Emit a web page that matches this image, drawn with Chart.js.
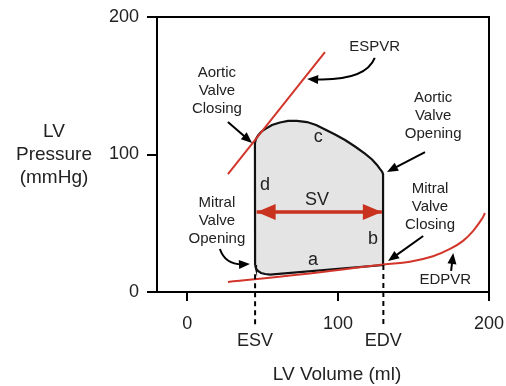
<!DOCTYPE html>
<html>
<head>
<meta charset="utf-8">
<script src="https://cdn.jsdelivr.net/npm/chart.js@4"></script>
<style>
  html, body { margin: 0; padding: 0; background: #fff; }
  #wrap { width: 506px; height: 386px; position: relative; }
</style>
</head>
<body>
<div id="wrap"><canvas id="pv"></canvas></div>
<script>
// PV loop data (volume in ml, pressure in mmHg)
const loopVolume   = [45, 45.6, 46.9, 48.9, 51.6, 54.9, 129.8, 129.8, 129.1, 127.7, 125.8, 122.5, 117.8, 111.2, 104.6, 98, 91.4, 85.4, 79.4, 72.8, 66.8, 61.5, 56.2, 51.6, 48.9, 46.9, 45.6, 44.9, 45];
const loopPressure = [19.6, 17.1, 15.3, 13.8, 13.1, 12.7, 19.6, 85.8, 87.6, 89.5, 92.4, 96.4, 100.7, 105.8, 110.5, 114.5, 118.2, 121.5, 123.6, 124.4, 124.4, 123.3, 121.5, 118.5, 116.4, 113.8, 111.3, 108.4, 19.6];

const espvrVolume   = [27, 91.3];
const espvrPressure = [85.8, 174.5];

const edpvrVolume   = [27, 74.7, 129.8, 147.6, 162.9, 174.2, 182.8, 189.4, 195.4, 197.3];
const edpvrPressure = [7.3, 12.7, 20, 22, 26, 31.3, 37.2, 44.3, 53.3, 57.5];

const esv = 45;
const edv = 130;
const svPressure = 58.2;
const dashBottom = -26;

const xTicks = [0, 100, 200];
const yTicks = [0, 100, 200];

// text labels, positioned in data units
const labels = [
  { x: 124.3, y: 178.2, lines: ['ESPVR'], size: 15 },
  { x: 19.7, y: 146.2, lines: ['Aortic', 'Valve', 'Closing'], size: 15 },
  { x: 163, y: 128, lines: ['Aortic', 'Valve', 'Opening'], size: 15 },
  { x: 19.7, y: 51.6, lines: ['Mitral', 'Valve', 'Opening'], size: 15 },
  { x: 160.9, y: 61.8, lines: ['Mitral', 'Valve', 'Closing'], size: 15 },
  { x: 171, y: 8.7, lines: ['EDPVR'], size: 15 },
  { x: 86.8, y: 112.7, lines: ['c'], size: 18 },
  { x: 51.6, y: 77.8, lines: ['d'], size: 18 },
  { x: 86.1, y: 66.9, lines: ['SV'], size: 18 },
  { x: 123.1, y: 38.5, lines: ['b'], size: 18 },
  { x: 83.4, y: 23.3, lines: ['a'], size: 18 }
];

// black pointer arrows: tail -> head, optional curve control
const pointers = [
  { from: [124.3, 170.2], ctrl: [118, 153], to: [79.5, 154.9] },
  { from: [27, 123.6], to: [43, 108.4] },
  { from: [157.6, 101.8], to: [132.4, 87.3] },
  { from: [21.7, 31.3], ctrl: [25.2, 19.6], to: [41.6, 20.4] },
  { from: [156.4, 40.7], to: [133.1, 22.5] },
  { from: [174.9, 15.3], to: [176.3, 28.4] }
];

const FONT = '"Liberation Sans", Arial, Helvetica, sans-serif';
const RED = '#d2352a';

function pts(xs, ys) {
  return xs.map((v, i) => ({ x: v, y: ys[i] }));
}

function arrowHead(ctx, x, y, angle, len, half) {
  ctx.save();
  ctx.translate(x, y);
  ctx.rotate(angle);
  ctx.beginPath();
  ctx.moveTo(0, 0);
  ctx.lineTo(-len, -half);
  ctx.lineTo(-len, half);
  ctx.closePath();
  ctx.fill();
  ctx.restore();
}

const decorations = {
  id: 'decorations',
  afterDatasetsDraw(chart) {
    const ctx = chart.ctx;
    const xs = chart.scales.x, ys = chart.scales.y;
    const a = chart.chartArea;

    // frame round the plot
    ctx.save();
    ctx.strokeStyle = '#000';
    ctx.lineWidth = 2;
    ctx.strokeRect(a.left, a.top, a.right - a.left, a.bottom - a.top);

    // arrowheads on SV line
    chart.data.datasets.forEach((ds, i) => {
      if (!ds.arrowEnds) return;
      const p = chart.getDatasetMeta(i).data;
      const first = p[0], last = p[p.length - 1];
      ctx.fillStyle = ds.borderColor;
      arrowHead(ctx, first.x, first.y, Math.atan2(first.y - p[1].y, first.x - p[1].x), 19, 8);
      arrowHead(ctx, last.x, last.y, Math.atan2(last.y - p[p.length - 2].y, last.x - p[p.length - 2].x), 19, 8);
    });

    // text labels
    ctx.fillStyle = '#222';
    ctx.textAlign = 'center';
    ctx.textBaseline = 'middle';
    labels.forEach(l => {
      ctx.font = l.size + 'px ' + FONT;
      const lh = 18;
      const cx = xs.getPixelForValue(l.x);
      const cy = ys.getPixelForValue(l.y);
      l.lines.forEach((t, k) => {
        ctx.fillText(t, cx, cy + (k - (l.lines.length - 1) / 2) * lh);
      });
    });

    // pointer arrows
    ctx.strokeStyle = '#000';
    ctx.fillStyle = '#000';
    ctx.lineWidth = 2;
    pointers.forEach(p => {
      const fx = xs.getPixelForValue(p.from[0]), fy = ys.getPixelForValue(p.from[1]);
      const tx = xs.getPixelForValue(p.to[0]), ty = ys.getPixelForValue(p.to[1]);
      let ang, ex, ey;
      ctx.beginPath();
      ctx.moveTo(fx, fy);
      if (p.ctrl) {
        const qx = xs.getPixelForValue(p.ctrl[0]), qy = ys.getPixelForValue(p.ctrl[1]);
        ang = Math.atan2(ty - qy, tx - qx);
        ex = tx - Math.cos(ang) * 6; ey = ty - Math.sin(ang) * 6;
        ctx.quadraticCurveTo(qx, qy, ex, ey);
      } else {
        ang = Math.atan2(ty - fy, tx - fx);
        ex = tx - Math.cos(ang) * 6; ey = ty - Math.sin(ang) * 6;
        ctx.lineTo(ex, ey);
      }
      ctx.stroke();
      arrowHead(ctx, tx, ty, ang, 11, 4.5);
    });

    // axis titles and ESV/EDV labels
    ctx.fillStyle = '#222';
    ctx.font = '19px ' + FONT;
    ctx.fillText('LV', 54, 132);
    ctx.fillText('Pressure', 54, 155);
    ctx.fillText('(mmHg)', 54, 178);
    ctx.fillText('LV Volume (ml)', 337, 375);
    ctx.font = '18px ' + FONT;
    ctx.fillText('ESV', xs.getPixelForValue(esv), 341);
    ctx.fillText('EDV', xs.getPixelForValue(edv), 341);
    ctx.restore();
  }
};

new Chart(document.getElementById('pv'), {
  type: 'scatter',
  data: {
    datasets: [
      {
        data: pts(loopVolume, loopPressure),
        showLine: true,
        fill: 'shape',
        backgroundColor: '#e4e4e4',
        borderColor: '#111',
        borderWidth: 2.2,
        pointRadius: 0,
        tension: 0,
        order: 10
      },
      {
        data: pts(espvrVolume, espvrPressure),
        showLine: true,
        borderColor: RED,
        borderWidth: 2,
        pointRadius: 0,
        order: 5
      },
      {
        data: pts(edpvrVolume, edpvrPressure),
        showLine: true,
        borderColor: RED,
        borderWidth: 2,
        pointRadius: 0,
        tension: 0.4,
        order: 5
      },
      {
        data: [{ x: esv + 1, y: svPressure }, { x: edv - 1, y: svPressure }],
        showLine: true,
        borderColor: '#c8321f',
        borderWidth: 3.5,
        pointRadius: 0,
        arrowEnds: true,
        order: 1
      },
      {
        data: [{ x: esv, y: 13 }, { x: esv, y: dashBottom }],
        showLine: true,
        borderColor: '#000',
        borderWidth: 2,
        borderDash: [5, 4],
        pointRadius: 0,
        clip: false,
        order: 1
      },
      {
        data: [{ x: edv, y: 19.6 }, { x: edv, y: dashBottom }],
        showLine: true,
        borderColor: '#000',
        borderWidth: 2,
        borderDash: [5, 4],
        pointRadius: 0,
        clip: false,
        order: 1
      }
    ]
  },
  options: {
    responsive: true,
    maintainAspectRatio: false,
    animation: false,
    layout: { padding: { top: 17, right: 17, left: 0, bottom: 0 } },
    plugins: { legend: { display: false }, tooltip: { enabled: false } },
    scales: {
      x: {
        type: 'linear',
        min: -20,
        max: 200,
        afterFit: s => { s.height = 94; s.paddingLeft = 0; s.paddingRight = 0; },
        afterBuildTicks: s => { s.ticks = xTicks.map(v => ({ value: v })); },
        grid: { drawOnChartArea: false, color: '#000', lineWidth: 2, tickLength: 9 },
        border: { color: '#000', width: 2 },
        ticks: { color: '#222', font: { family: FONT, size: 18 }, padding: 12, maxRotation: 0 }
      },
      y: {
        type: 'linear',
        min: 0,
        max: 200,
        afterFit: s => { s.width = 157; s.paddingTop = 0; s.paddingBottom = 0; },
        afterBuildTicks: s => { s.ticks = yTicks.map(v => ({ value: v })); },
        grid: { drawOnChartArea: false, color: '#000', lineWidth: 2, tickLength: 10 },
        border: { color: '#000', width: 2 },
        ticks: { color: '#222', font: { family: FONT, size: 18 }, padding: 8 }
      }
    }
  },
  plugins: [decorations]
});
</script>
</body>
</html>
